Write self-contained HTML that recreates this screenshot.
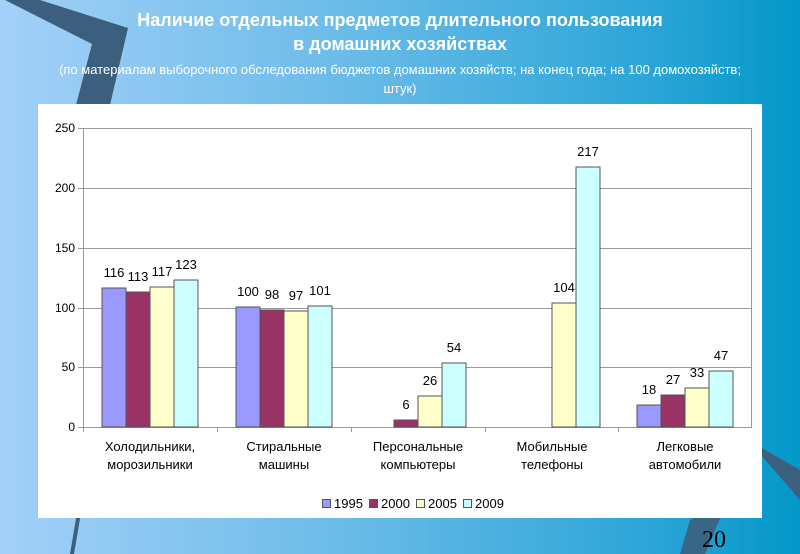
<!DOCTYPE html>
<html><head><meta charset="utf-8"><style>
body{margin:0;width:800px;height:554px;overflow:hidden;background:linear-gradient(90deg,#a3d0f8 0%,#6fbde9 40%,#2ea6d8 80%,#0397c8 100%);font-family:"Liberation Sans","DejaVu Sans",sans-serif;position:relative}
.t{position:absolute;left:0;width:800px;text-align:center;color:#fff}
</style></head><body>
<svg width="800" height="554" style="position:absolute;left:0;top:0">
<polygon points="5,0 40,0 128,28 110,105 76,105 92,44" fill="#3c5f7d"/>
<polygon points="80,495 84,495 74,554 70,554" fill="#3c5f7d"/>
<polygon points="690,520 730,495 705,554 680,554" fill="#3c5f7d" opacity="0.9"/>
<polygon points="748,440 800,470 800,500" fill="#3c5f7d"/>
</svg>
<div class="t" style="top:10px;font-size:18px;font-weight:bold">Наличие отдельных предметов длительного пользования</div>
<div class="t" style="top:34px;font-size:18px;font-weight:bold">в домашних хозяйствах</div>
<div class="t" style="top:60px;font-size:13px;line-height:19px">(по материалам выборочного обследования бюджетов домашних хозяйств; на конец года; на 100 домохозяйств;<br>штук)</div>
<svg width="800" height="554" style="position:absolute;left:0;top:0" font-family="Liberation Sans, DejaVu Sans, sans-serif">
<rect x="38" y="104" width="724" height="414" fill="#fff"/>
<g stroke="#999" stroke-width="1">
<line x1="83" y1="128.5" x2="752" y2="128.5"/><line x1="83" y1="188.5" x2="752" y2="188.5"/><line x1="83" y1="248.5" x2="752" y2="248.5"/><line x1="83" y1="308.5" x2="752" y2="308.5"/><line x1="83" y1="367.5" x2="752" y2="367.5"/>
<line x1="751.5" y1="128" x2="751.5" y2="427"/>
<line x1="83.5" y1="128" x2="83.5" y2="432"/><line x1="83" y1="427.5" x2="752" y2="427.5"/>
<line x1="78" y1="128.5" x2="83" y2="128.5"/><line x1="78" y1="188.5" x2="83" y2="188.5"/><line x1="78" y1="248.5" x2="83" y2="248.5"/><line x1="78" y1="308.5" x2="83" y2="308.5"/><line x1="78" y1="367.5" x2="83" y2="367.5"/><line x1="78" y1="427.5" x2="83" y2="427.5"/>
<line x1="217.5" y1="427" x2="217.5" y2="432"/><line x1="351.5" y1="427" x2="351.5" y2="432"/><line x1="485.5" y1="427" x2="485.5" y2="432"/><line x1="618.5" y1="427" x2="618.5" y2="432"/>
</g>
<g font-size="12" text-anchor="end" fill="#000"><text x="75" y="132">250</text><text x="75" y="192">200</text><text x="75" y="252">150</text><text x="75" y="312">100</text><text x="75" y="371">50</text><text x="75" y="431">0</text></g>
<g stroke="#555" stroke-width="1">
<rect x="102" y="288" width="24" height="139" fill="#9999ff"/><rect x="126" y="292" width="24" height="135" fill="#993366"/><rect x="150" y="287" width="24" height="140" fill="#ffffcc"/><rect x="174" y="280" width="24" height="147" fill="#ccffff"/>
<rect x="236" y="307" width="24" height="120" fill="#9999ff"/><rect x="260" y="310" width="24" height="117" fill="#993366"/><rect x="284" y="311" width="24" height="116" fill="#ffffcc"/><rect x="308" y="306" width="24" height="121" fill="#ccffff"/>
<rect x="394" y="420" width="24" height="7" fill="#993366"/><rect x="418" y="396" width="24" height="31" fill="#ffffcc"/><rect x="442" y="363" width="24" height="64" fill="#ccffff"/>
<rect x="552" y="303" width="24" height="124" fill="#ffffcc"/><rect x="576" y="167" width="24" height="260" fill="#ccffff"/>
<rect x="637" y="405" width="24" height="22" fill="#9999ff"/><rect x="661" y="395" width="24" height="32" fill="#993366"/><rect x="685" y="388" width="24" height="39" fill="#ffffcc"/><rect x="709" y="371" width="24" height="56" fill="#ccffff"/>
</g>
<g font-size="13" text-anchor="middle" fill="#000">
<text x="114" y="277">116</text><text x="138" y="281">113</text><text x="162" y="276">117</text><text x="186" y="269">123</text>
<text x="248" y="296">100</text><text x="272" y="299">98</text><text x="296" y="300">97</text><text x="320" y="295">101</text>
<text x="406" y="409">6</text><text x="430" y="385">26</text><text x="454" y="352">54</text>
<text x="564" y="292">104</text><text x="588" y="156">217</text>
<text x="649" y="394">18</text><text x="673" y="384">27</text><text x="697" y="377">33</text><text x="721" y="360">47</text>
</g>
<g font-size="13" text-anchor="middle" fill="#000">
<text x="150" y="451">Холодильники,</text><text x="150" y="469">морозильники</text>
<text x="284" y="451">Стиральные</text><text x="284" y="469">машины</text>
<text x="418" y="451">Персональные</text><text x="418" y="469">компьютеры</text>
<text x="552" y="451">Мобильные</text><text x="552" y="469">телефоны</text>
<text x="685" y="451">Легковые</text><text x="685" y="469">автомобили</text>
</g>
<g font-size="13" fill="#000" stroke-width="1">
<rect x="322.5" y="499.5" width="8" height="8" fill="#9999ff" stroke="#555"/><text x="334" y="508">1995</text>
<rect x="369.5" y="499.5" width="8" height="8" fill="#993366" stroke="#555"/><text x="381" y="508">2000</text>
<rect x="416.5" y="499.5" width="8" height="8" fill="#ffffcc" stroke="#555"/><text x="428" y="508">2005</text>
<rect x="463.5" y="499.5" width="8" height="8" fill="#ccffff" stroke="#555"/><text x="475" y="508">2009</text>
</g>
<text x="726" y="547" font-family="Liberation Serif, serif" font-size="24" text-anchor="end" fill="#000">20</text>
</svg>
</body></html>
